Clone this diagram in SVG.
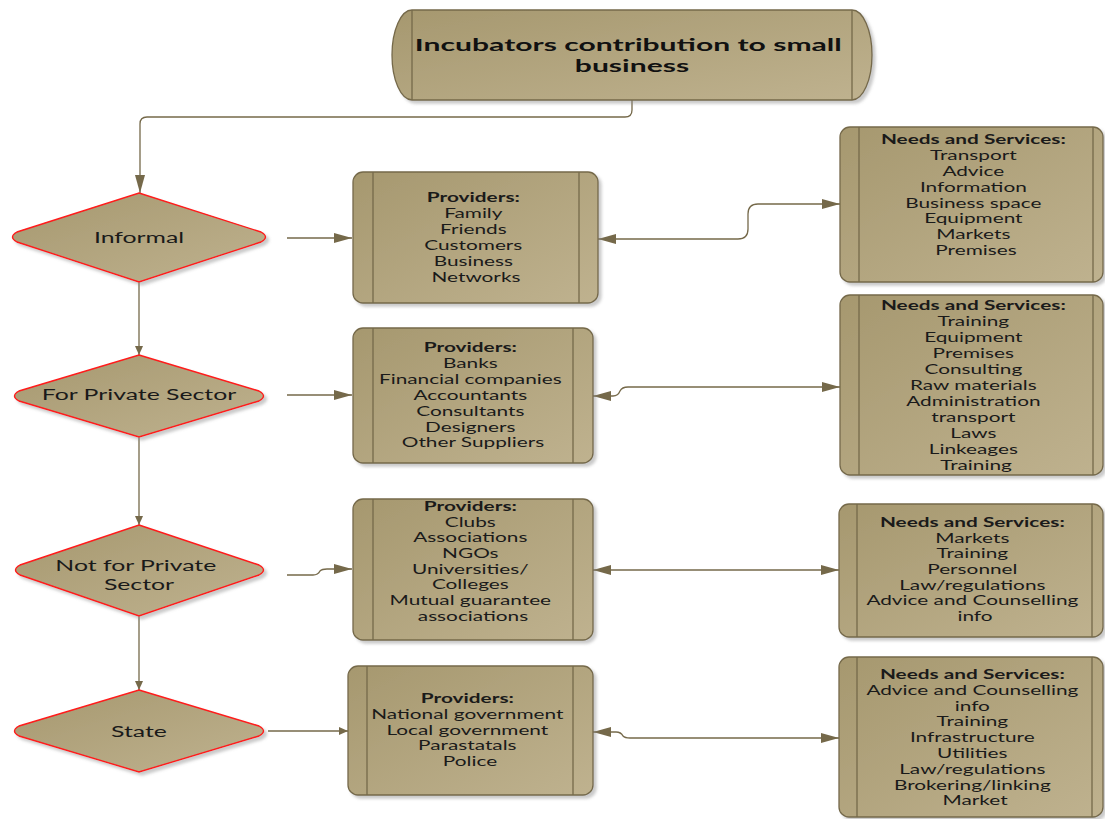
<svg xmlns="http://www.w3.org/2000/svg" width="1105" height="819" viewBox="0 0 1105 819">
  <style>
    .box { fill: url(#tan); stroke: #75694a; stroke-width: 1.3; filter: url(#shadow); }
    .dia { fill: url(#tan); stroke: #ff1a1a; stroke-width: 1.4; filter: url(#shadow); }
    .rule { stroke: #75694a; stroke-width: 1.3; }
    .txt { font-family: Lato, "Open Sans", sans-serif; font-size: 13px; fill: #1a1a1a; text-anchor: middle; }
    .hd { font-weight: bold; }
    .dtxt { font-family: Lato, "Open Sans", sans-serif; font-size: 15.5px; fill: #1a1a1a; text-anchor: middle; }
    .ttl { font-family: Lato, "Open Sans", sans-serif; font-size: 17.5px; font-weight: bold; fill: #111; text-anchor: middle; }
    .wire { fill: none; stroke: #75694a; stroke-width: 1.3; }
  </style>
  <defs>
    <linearGradient id="tan" x1="0" y1="0" x2="1" y2="1">
      <stop offset="0" stop-color="#a6986f"/>
      <stop offset="1" stop-color="#bfb28f"/>
    </linearGradient>
    <filter id="shadow" x="-10%" y="-10%" width="125%" height="125%">
      <feDropShadow dx="3" dy="3" stdDeviation="1.5" flood-color="#8a8a8a" flood-opacity="0.45"/>
    </filter>
    <marker id="big" markerUnits="userSpaceOnUse" markerWidth="20" markerHeight="12" refX="18" refY="5" orient="auto-start-reverse">
      <path d="M0,0 L18,5 L0,10 Z" fill="#75694a"/>
    </marker>
    <marker id="small" markerUnits="userSpaceOnUse" markerWidth="12" markerHeight="10" refX="9" refY="4" orient="auto-start-reverse">
      <path d="M0,0 L9,4 L0,8 Z" fill="#75694a"/>
    </marker>
  </defs>

  <!-- connectors -->
  <g id="connectors">
    <path class="wire" d="M632,100 V110 Q632,117 625,117 H147 Q140,117 140,124 V193" marker-end="url(#big)"/>
    <path class="wire" d="M287,238 H352" marker-end="url(#big)"/>
    <path class="wire" d="M598,239 H738 Q748,239 748,229 V214 Q748,204 758,204 H840" marker-start="url(#big)" marker-end="url(#big)"/>
    <path class="wire" d="M139,282 V355" marker-end="url(#small)"/>
    <path class="wire" d="M287,395 H352" marker-end="url(#big)"/>
    <path class="wire" d="M593,396 H613 Q618,396 620,391 Q622,387 628,387 H840" marker-start="url(#big)" marker-end="url(#big)"/>
    <path class="wire" d="M139,437 V525" marker-end="url(#small)"/>
    <path class="wire" d="M287,575 H313 Q318,575 320,571 Q322,569 327,569 H352" marker-end="url(#big)"/>
    <path class="wire" d="M593,570 H839" marker-start="url(#big)" marker-end="url(#big)"/>
    <path class="wire" d="M139,616 V690" marker-end="url(#small)"/>
    <path class="wire" d="M268,731 H348" marker-end="url(#small)"/>
    <path class="wire" d="M593,732 H616 Q621,732 623,736 Q625,738 630,738 H839" marker-start="url(#big)" marker-end="url(#big)"/>
  </g>

  <!-- title -->
  <g id="title">
    <path class="box" d="M412,10 H852 A20,45 0 0 1 852,100 H412 A20,45 0 0 1 412,10 Z"/>
    <line class="rule" x1="412" y1="10" x2="412" y2="100"/>
    <line class="rule" x1="852" y1="10" x2="852" y2="100"/>
    <text class="ttl" transform="translate(632 0) scale(1.72 1)">
      <tspan x="0" y="51">Incubators contribution to small</tspan>
      <tspan x="0" y="72">business</tspan>
    </text>
  </g>

  <!-- decision nodes -->
  <g id="informal">
    <path class="dia" d="M139,193 L261,232 Q270,237 261,242 L139,282 L17,242 Q8,237 17,232 Z"/>
    <text class="dtxt" transform="translate(139 0) scale(1.6 1)"><tspan x="0" y="243">Informal</tspan></text>
  </g>
  <g id="for-private">
    <path class="dia" d="M139,355 L259,391 Q268,396 259,401 L139,437 L19,401 Q10,396 19,391 Z"/>
    <text class="dtxt" transform="translate(139 0) scale(1.6 1)"><tspan x="0" y="400">For Private Sector</tspan></text>
  </g>
  <g id="not-for-private">
    <path class="dia" d="M139,525 L259,565 Q268,570 259,575 L139,616 L20,575 Q11,570 20,565 Z"/>
    <text class="dtxt" transform="translate(139 0) scale(1.6 1)">
      <tspan x="0" y="571">Not for Private</tspan>
      <tspan x="0" y="590">Sector</tspan>
    </text>
  </g>
  <g id="state">
    <path class="dia" d="M139,690 L259,726 Q268,731 259,736 L139,772 L19,736 Q10,731 19,726 Z"/>
    <text class="dtxt" transform="translate(139 0) scale(1.6 1)"><tspan x="0" y="737">State</tspan></text>
  </g>

  <!-- provider boxes -->
  <g id="providers-informal">
    <rect class="box" x="353" y="172" width="245" height="131" rx="10"/>
    <line class="rule" x1="373" y1="172" x2="373" y2="303"/>
    <line class="rule" x1="579" y1="172" x2="579" y2="303"/>
    <text class="txt" transform="translate(476 0) scale(1.6 1)">
      <tspan class="hd" x="0" y="202">Providers:</tspan>
      <tspan x="0" y="218">Family</tspan>
      <tspan x="0" y="234">Friends</tspan>
      <tspan x="0" y="250">Customers</tspan>
      <tspan x="0" y="266">Business</tspan>
      <tspan x="0" y="282">Networks</tspan>
    </text>
  </g>
  <g id="providers-private">
    <rect class="box" x="353" y="328" width="240" height="135" rx="10"/>
    <line class="rule" x1="373" y1="328" x2="373" y2="463"/>
    <line class="rule" x1="573" y1="328" x2="573" y2="463"/>
    <text class="txt" transform="translate(473 0) scale(1.6 1)">
      <tspan class="hd" x="0" y="352">Providers:</tspan>
      <tspan x="0" y="368">Banks</tspan>
      <tspan x="0" y="384">Financial companies</tspan>
      <tspan x="0" y="400">Accountants</tspan>
      <tspan x="0" y="415.8">Consultants</tspan>
      <tspan x="0" y="431.6">Designers</tspan>
      <tspan x="0" y="447.4">Other Suppliers</tspan>
    </text>
  </g>
  <g id="providers-not-private">
    <rect class="box" x="353" y="499" width="240" height="141" rx="10"/>
    <line class="rule" x1="373" y1="499" x2="373" y2="640"/>
    <line class="rule" x1="573" y1="499" x2="573" y2="640"/>
    <text class="txt" transform="translate(473 0) scale(1.6 1)">
      <tspan class="hd" x="0" y="511">Providers:</tspan>
      <tspan x="0" y="526.7">Clubs</tspan>
      <tspan x="0" y="542.4">Associations</tspan>
      <tspan x="0" y="558.1">NGOs</tspan>
      <tspan x="0" y="573.8">Universities/</tspan>
      <tspan x="0" y="589.5">Colleges</tspan>
      <tspan x="0" y="605.2">Mutual guarantee</tspan>
      <tspan x="0" y="620.9">associations</tspan>
    </text>
  </g>
  <g id="providers-state">
    <rect class="box" x="348" y="666" width="245" height="129" rx="10"/>
    <line class="rule" x1="367" y1="666" x2="367" y2="795"/>
    <line class="rule" x1="573" y1="666" x2="573" y2="795"/>
    <text class="txt" transform="translate(470 0) scale(1.6 1)">
      <tspan class="hd" x="0" y="703">Providers:</tspan>
      <tspan x="0" y="718.8">National government</tspan>
      <tspan x="0" y="734.6">Local government</tspan>
      <tspan x="0" y="750.4">Parastatals</tspan>
      <tspan x="0" y="766.2">Police</tspan>
    </text>
  </g>

  <!-- needs and services boxes -->
  <g id="needs-informal">
    <rect class="box" x="840" y="127" width="263" height="155" rx="10"/>
    <line class="rule" x1="859" y1="127" x2="859" y2="282"/>
    <line class="rule" x1="1093" y1="127" x2="1093" y2="282"/>
    <text class="txt" transform="translate(976 0) scale(1.6 1)">
      <tspan class="hd" x="0" y="144">Needs and Services:</tspan>
      <tspan x="0" y="159.9">Transport</tspan>
      <tspan x="0" y="175.8">Advice</tspan>
      <tspan x="0" y="191.7">Information</tspan>
      <tspan x="0" y="207.6">Business space</tspan>
      <tspan x="0" y="223.5">Equipment</tspan>
      <tspan x="0" y="239.4">Markets</tspan>
      <tspan x="0" y="255.3">Premises</tspan>
    </text>
  </g>
  <g id="needs-private">
    <rect class="box" x="840" y="295" width="263" height="180" rx="10"/>
    <line class="rule" x1="859" y1="295" x2="859" y2="475"/>
    <line class="rule" x1="1093" y1="295" x2="1093" y2="475"/>
    <text class="txt" transform="translate(976 0) scale(1.6 1)">
      <tspan class="hd" x="0" y="310">Needs and Services:</tspan>
      <tspan x="0" y="326">Training</tspan>
      <tspan x="0" y="342">Equipment</tspan>
      <tspan x="0" y="358">Premises</tspan>
      <tspan x="0" y="374">Consulting</tspan>
      <tspan x="0" y="390">Raw materials</tspan>
      <tspan x="0" y="406">Administration</tspan>
      <tspan x="0" y="422">transport</tspan>
      <tspan x="0" y="438">Laws</tspan>
      <tspan x="0" y="454">Linkeages</tspan>
      <tspan x="0" y="470">Training</tspan>
    </text>
  </g>
  <g id="needs-not-private">
    <rect class="box" x="839" y="504" width="264" height="133" rx="10"/>
    <line class="rule" x1="857" y1="504" x2="857" y2="637"/>
    <line class="rule" x1="1092" y1="504" x2="1092" y2="637"/>
    <text class="txt" transform="translate(975 0) scale(1.6 1)">
      <tspan class="hd" x="0" y="527">Needs and Services:</tspan>
      <tspan x="0" y="542.7">Markets</tspan>
      <tspan x="0" y="558.4">Training</tspan>
      <tspan x="0" y="574.1">Personnel</tspan>
      <tspan x="0" y="589.8">Law/regulations</tspan>
      <tspan x="0" y="605.5">Advice and Counselling</tspan>
      <tspan x="0" y="621.2">info</tspan>
    </text>
  </g>
  <g id="needs-state">
    <rect class="box" x="839" y="657" width="264" height="160" rx="10"/>
    <line class="rule" x1="857" y1="657" x2="857" y2="817"/>
    <line class="rule" x1="1092" y1="657" x2="1092" y2="817"/>
    <text class="txt" transform="translate(975 0) scale(1.6 1)">
      <tspan class="hd" x="0" y="679">Needs and Services:</tspan>
      <tspan x="0" y="694.8">Advice and Counselling</tspan>
      <tspan x="0" y="710.6">info</tspan>
      <tspan x="0" y="726.4">Training</tspan>
      <tspan x="0" y="742.2">Infrastructure</tspan>
      <tspan x="0" y="758">Utilities</tspan>
      <tspan x="0" y="773.8">Law/regulations</tspan>
      <tspan x="0" y="789.6">Brokering/linking</tspan>
      <tspan x="0" y="805.4">Market</tspan>
    </text>
  </g>
</svg>
